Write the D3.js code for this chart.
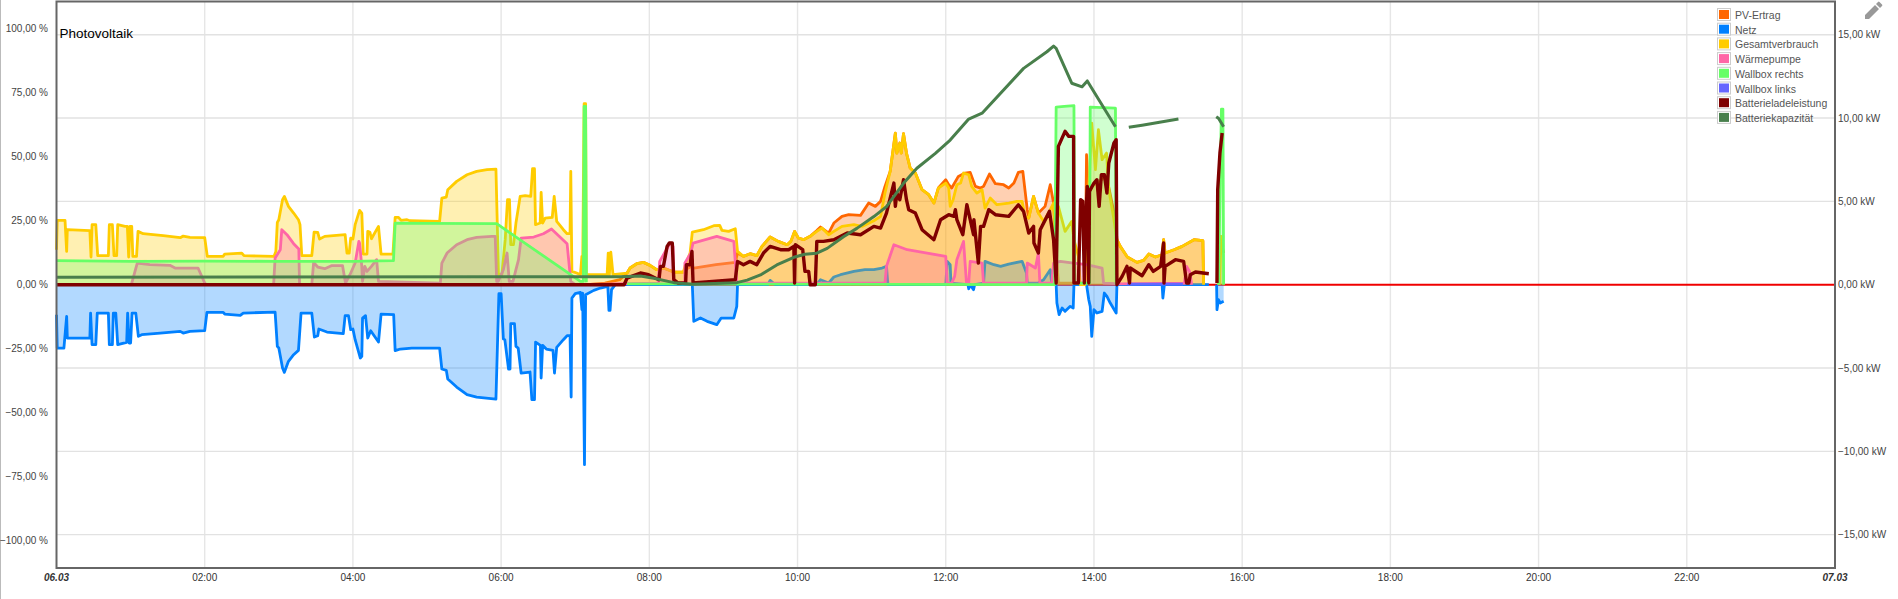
<!DOCTYPE html>
<html><head><meta charset="utf-8">
<script src="https://cdn.jsdelivr.net/npm/d3@7"></script>
<style>html,body{margin:0;padding:0;background:#fff;overflow:hidden}svg{display:block;font-family:"Liberation Sans",Arial,sans-serif}</style>
</head><body><svg id="c" width="1898" height="599"></svg>
<script>
const title="Photovoltaik";
const legendNames=["PV-Ertrag","Netz","Gesamtverbrauch","Wärmepumpe","Wallbox rechts","Wallbox links","Batterieladeleistung","Batteriekapazität"];
const seriesColors=["#ff6600","#0080ff","#ffcc00","#ff66a6","#66ff66","#6666ff","#7f0000","#487f4c"];
const pctTicks=[100,75,50,25,0,-25,-50,-75,-100];
const kwTicks=[15,10,5,0,-5,-10,-15];
const hourTicks=[2,4,6,8,10,12,14,16,18,20,22];

// [hour, kW]
const pv=[[7.16,0],[7.4,.1],[7.6,.3],[7.7,.7],[7.74,1],[7.83,1.26],[7.92,1.34],[8.01,1.16],[8.1,.9],[8.19,1],[8.33,.76],[8.46,.76],[8.48,.9],[8.57,1.1],[8.6,1],[8.9,1.2],[9.16,1.34],[9.19,1.9],[9.27,1.7],[9.36,1.86],[9.45,1.74],[9.52,2.3],[9.63,2.86],[9.74,2.6],[9.86,2.4],[9.91,2.6],[9.96,3.2],[10.01,2.8],[10.08,2.7],[10.17,2.9],[10.26,3.25],[10.31,3.46],[10.42,3.1],[10.49,3.7],[10.6,4.1],[10.69,4.2],[10.85,4.16],[10.96,4.9],[11.05,4.7],[11.12,5],[11.18,5.9],[11.25,6.8],[11.32,9.1],[11.34,7.9],[11.38,8.5],[11.4,7.9],[11.43,9.06],[11.47,7.9],[11.52,7],[11.59,6.7],[11.68,5.7],[11.77,5.4],[11.84,4.9],[11.9,5.8],[12,6.3],[12.04,6],[12.08,5.8],[12.17,6.5],[12.26,6.7],[12.33,6.74],[12.4,5.9],[12.47,5.8],[12.51,5.9],[12.59,6.64],[12.67,6.06],[12.78,6],[12.85,5.8],[12.92,6.1],[12.98,6.74],[13.04,6.8],[13.1,4.5],[13.12,4],[13.185,5.3],[13.25,4.3],[13.34,4.7],[13.41,6],[13.455,4.9],[13.49,1.9],[13.52,.1],[13.88,.1],[13.9,7.8],[13.92,5.5],[13.97,5.9],[14.17,6.5],[14.29,3.9],[14.31,2.7],[14.355,2.3],[14.45,1.66],[14.58,1.34],[14.67,1.46],[14.74,1.84],[14.83,1.66],[14.92,1.8],[14.94,2.7],[14.96,1.9],[15.08,2.1],[15.19,2.3],[15.35,2.7],[15.47,2.64],[15.48,0],[15.49,NaN],[15.68,NaN],[15.69,0],[15.7,2.9],[15.75,1.9]];

const netz=[[0,-1.8],[.01,-3.8],[.1,-3.8],[.137,-1.9],[.146,-3.2],[.45,-3.2],[.46,-1.7],[.48,-3.6],[.53,-3.6],[.55,-1.7],[.7,-1.7],[.713,-3.6],[.754,-3.6],[.767,-1.7],[.8,-1.7],[.826,-3.6],[.947,-3.46],[.96,-1.7],[.98,-3.5],[1,-3.5],[1.02,-1.7],[1.07,-1.7],[1.105,-3.1],[1.15,-3],[1.4,-2.9],[1.67,-2.8],[1.71,-2.9],[1.8,-2.8],[2,-2.76],[2.03,-1.66],[2.25,-1.66],[2.27,-1.76],[2.48,-1.84],[2.52,-1.7],[2.95,-1.64],[2.98,-3.7],[3,-3.8],[3.05,-5],[3.075,-5.26],[3.13,-4.6],[3.2,-4.2],[3.265,-3.94],[3.3,-1.7],[3.445,-1.7],[3.48,-3.14],[3.525,-3.06],[3.54,-2.66],[3.65,-2.84],[3.87,-2.94],[3.895,-1.86],[3.94,-1.86],[3.97,-2.7],[4,-2.66],[4.03,-3.3],[4.1,-4.4],[4.12,-4.3],[4.13,-2],[4.17,-1.86],[4.2,-3.2],[4.24,-2.76],[4.345,-3.44],[4.38,-1.76],[4.55,-1.8],[4.57,-3.96],[4.64,-3.86],[4.795,-3.8],[5.11,-3.8],[5.17,-3.8],[5.2,-5.06],[5.26,-5.14],[5.28,-5.66],[5.4,-6.14],[5.54,-6.6],[5.67,-6.74],[5.93,-6.86],[5.97,-.54],[6,-.54],[6.03,-3.26],[6.05,-3.3],[6.1,-5.06],[6.12,-5.06],[6.13,-2.34],[6.18,-2.34],[6.2,-3.7],[6.23,-3.8],[6.27,-5.3],[6.39,-5.24],[6.415,-6.9],[6.45,-6.9],[6.465,-3.44],[6.53,-3.64],[6.54,-5.6],[6.56,-3.64],[6.61,-3.86],[6.7,-3.94],[6.72,-5.3],[6.75,-3.76],[6.84,-3.3],[6.89,-3.06],[6.93,-3.06],[6.945,-6.74],[6.955,-.8],[7,-.54],[7.07,-.46],[7.09,-1.5],[7.1,-.5],[7.125,-10.8],[7.14,-.6],[7.25,-.34],[7.34,-.2],[7.44,-.1],[7.455,-1.54],[7.47,-1.54],[7.49,-.3],[7.54,0],[8.58,0],[8.6,-2.2],[8.69,-2],[8.78,-2.2],[8.91,-2.4],[8.97,-2],[9.14,-2],[9.18,-1.3],[9.19,0],[9.6,0],[9.63,.26],[9.7,0],[10.26,0],[10.31,.3],[10.42,.1],[10.49,.46],[10.58,.6],[10.76,.8],[10.91,.9],[11.03,.9],[11.14,1],[11.2,1.1],[11.22,0],[12,0],[12.02,1.4],[12.06,1.2],[12.07,.1],[12.3,0],[12.31,-.25],[12.33,0],[12.375,-.3],[12.39,0],[12.51,.1],[12.53,1.4],[12.65,1.2],[12.74,1.1],[12.85,1.24],[13.03,1.4],[13.09,.7],[13.1,.1],[13.25,.1],[13.32,.3],[13.41,.9],[13.43,.1],[13.49,0],[13.5,-1.1],[13.53,-1.8],[13.57,-1.4],[13.61,-1.6],[13.68,-1.3],[13.72,-1.4],[13.73,0],[13.9,0],[13.93,-.9],[13.95,-1.3],[13.97,-3.1],[14,-1.5],[14.04,-1.7],[14.11,-1.6],[14.14,-.5],[14.175,-.7],[14.22,-1.1],[14.3,-1.7],[14.31,0],[14.92,0],[14.93,-.8],[14.95,0],[15.55,0],[15.56,NaN],[15.65,NaN],[15.655,0],[15.66,-1.5],[15.68,-.9],[15.705,-1.1],[15.75,-1]];

const gesamt=[[0,2.1],[.01,3.86],[.115,3.86],[.137,2],[.146,3.3],[.45,3.24],[.466,1.66],[.48,3.6],[.53,3.6],[.556,1.74],[.7,1.74],[.713,3.6],[.754,3.6],[.776,1.74],[.812,1.74],[.826,3.6],[.925,3.5],[.956,3.5],[.974,1.66],[.992,3.5],[1.015,3.5],[1.03,1.7],[1.08,1.7],[1.1,3.2],[1.17,3.06],[1.44,2.94],[1.67,2.82],[1.71,2.92],[1.8,2.84],[2,2.82],[2.035,1.7],[2.25,1.7],[2.27,1.84],[2.5,1.9],[2.53,1.74],[2.935,1.7],[2.96,2],[2.98,3.74],[3,3.9],[3.05,5.1],[3.075,5.3],[3.13,4.7],[3.2,4.3],[3.265,3.9],[3.286,3.6],[3.31,1.74],[3.445,1.74],[3.476,3.16],[3.525,3.14],[3.55,2.74],[3.62,2.9],[3.895,3],[3.92,1.9],[3.95,1.9],[3.97,2.8],[4,2.74],[4.03,3.6],[4.09,4.46],[4.12,4.3],[4.14,1.84],[4.19,1.84],[4.2,3.2],[4.23,3.14],[4.25,2.76],[4.345,3.5],[4.38,1.84],[4.54,1.84],[4.57,4.04],[4.615,4.04],[4.65,3.86],[4.73,3.9],[4.77,3.84],[5.17,3.8],[5.2,5.2],[5.26,5.26],[5.28,5.7],[5.4,6.2],[5.54,6.6],[5.67,6.8],[5.81,6.9],[5.93,6.94],[5.965,.6],[6.01,.6],[6.055,2.7],[6.086,5.1],[6.113,5.1],[6.13,2.4],[6.167,2.4],[6.2,3.7],[6.257,5.3],[6.325,5.34],[6.4,5.3],[6.424,6.96],[6.45,6.96],[6.464,3.6],[6.527,3.7],[6.54,5.54],[6.56,3.7],[6.595,4],[6.69,4.04],[6.716,5.3],[6.75,3.8],[6.84,3.3],[6.89,3.06],[6.93,3.06],[6.94,6.8],[6.955,.8],[7.02,.7],[7.07,.6],[7.09,1.7],[7.1,.7],[7.12,10.86],[7.14,10.86],[7.15,.6],[7.43,.6],[7.445,1.9],[7.46,.6],[7.48,1.96],[7.51,.6],[7.7,.7],[7.74,1],[7.83,1.26],[7.92,1.34],[8.01,1.16],[8.1,.9],[8.19,1],[8.33,.76],[8.46,.76],[8.48,1.1],[8.55,1.9],[8.58,3.16],[8.73,3.3],[8.87,3.54],[8.95,3.56],[8.98,3.26],[9.07,3.2],[9.16,3.36],[9.19,2],[9.27,1.7],[9.36,1.86],[9.45,1.74],[9.52,2.3],[9.63,2.86],[9.74,2.6],[9.86,2.4],[9.91,2.6],[9.96,3.2],[10.01,2.8],[10.08,2.7],[10.17,2.9],[10.26,3.2],[10.33,3.4],[10.42,3],[10.49,3.2],[10.6,3.5],[10.76,3.6],[10.87,3.5],[11.03,3.84],[11.12,4.1],[11.18,5.5],[11.25,6.8],[11.32,9.1],[11.34,7.9],[11.38,8.5],[11.4,7.9],[11.43,9.06],[11.47,7.9],[11.52,7],[11.59,6.7],[11.68,5.7],[11.77,5.4],[11.84,4.9],[11.9,5.8],[12,6.1],[12.04,5.8],[12.06,4.7],[12.1,5.1],[12.15,6],[12.2,6.1],[12.24,6.7],[12.31,6.6],[12.35,5.9],[12.42,5.5],[12.49,5.7],[12.53,4.6],[12.6,5.2],[12.69,4.8],[12.85,4.9],[12.96,5],[13.03,5],[13.07,4.1],[13.12,4],[13.185,5.3],[13.25,4.3],[13.32,3.8],[13.41,4.5],[13.455,4.9],[13.49,2.3],[13.52,4.7],[13.61,3.2],[13.7,3.8],[13.73,2.7],[13.79,1.7],[13.815,0],[13.88,0],[13.93,5.7],[13.97,9.7],[14.02,6.9],[14.06,9.3],[14.11,7.5],[14.17,7.9],[14.2,5.7],[14.27,3.9],[14.31,2.7],[14.355,2.3],[14.45,1.66],[14.58,1.34],[14.67,1.46],[14.74,1.84],[14.83,1.66],[14.92,1.8],[14.94,2.7],[14.96,1.9],[15.08,2.1],[15.19,2.3],[15.35,2.7],[15.47,2.64],[15.48,0],[15.49,NaN],[15.68,NaN],[15.69,0],[15.72,2.9],[15.75,2.8]];

const waerme=[[0,0],[1.01,0],[1.09,1.3],[1.26,1.2],[1.53,1.16],[1.6,1],[1.91,1],[2,.1],[2.02,0],[2.93,0],[2.95,1.6],[3.02,2.1],[3.04,3.3],[3.11,3],[3.2,2.46],[3.27,2.14],[3.28,0],[3.445,0],[3.47,1.34],[3.525,1.06],[3.62,.96],[3.71,1.14],[3.86,1.14],[3.9,.1],[3.96,.6],[4.03,1.3],[4.08,2.6],[4.09,2.5],[4.12,1.1],[4.13,.2],[4.16,1.1],[4.19,.8],[4.25,1.1],[4.32,1.5],[4.345,.2],[5.18,.1],[5.2,1.3],[5.27,1.9],[5.4,2.4],[5.54,2.7],[5.67,2.84],[5.875,2.9],[5.92,2.9],[5.94,.2],[5.96,.2],[6.03,.9],[6.08,1.9],[6.11,.2],[6.16,.2],[6.2,.9],[6.235,1.5],[6.27,2.8],[6.44,2.86],[6.57,3.06],[6.68,3.34],[6.89,2.46],[6.94,.2],[7,0],[8.12,.1],[8.14,1.4],[8.28,2.5],[8.32,2.3],[8.33,.1],[8.48,.1],[8.48,1.3],[8.56,1.9],[8.59,2.5],[8.91,2.9],[9.14,2.6],[9.18,.1],[11.18,.1],[11.2,1.1],[11.3,2.4],[11.48,2.1],[12,1.7],[12.02,.1],[12.08,.1],[12.12,.5],[12.15,1.5],[12.24,2.6],[12.28,.1],[12.31,.1],[12.33,1.4],[12.49,1.3],[12.51,.1],[13.09,.1],[13.1,1.3],[13.21,1],[13.25,1.9],[13.27,.1],[13.43,.1],[13.455,1.3],[13.545,1.4],[13.725,1.3],[13.9,1.2],[14.11,1],[14.13,.1],[14.35,.05],[15.22,.1],[15.25,1.1],[15.29,.8],[15.32,0]];

const wallboxRechts=[[0,1.44],[1,1.4],[2,1.42],[3,1.4],[4,1.4],[4.547,1.44],[4.57,3.7],[5,3.68],[5.94,3.66],[7.07,.2],[7.11,.2],[7.12,10.7],[7.14,10.7],[7.15,.15],[7.16,NaN],[7.69,NaN],[7.7,.05],[13.47,0],[13.49,10.66],[13.6,10.7],[13.73,10.74],[13.74,.1],[13.94,.1],[13.95,10.66],[14.29,10.6],[14.3,0],[14.31,NaN],[15.67,NaN],[15.68,0],[15.72,10.54],[15.74,10.54],[15.75,0]];

const wallboxLinks=[[14.45,.03],[15.2,.03]];

const batterie=[[0,0],[7.66,0],[7.7,.4],[7.76,.5],[7.88,.7],[7.99,.6],[8.08,.4],[8.13,.3],[8.15,1.1],[8.19,1.1],[8.24,2.3],[8.27,2.5],[8.31,2.5],[8.33,.3],[8.39,.1],[8.49,.1],[8.5,1.2],[8.55,1.2],[8.575,2],[8.59,.1],[9.16,.3],[9.19,1.4],[9.27,1.2],[9.36,1.4],[9.45,1.2],[9.54,1.9],[9.63,2.3],[9.77,2.1],[9.88,2.1],[9.95,2.3],[9.96,.1],[9.97,2.4],[10.07,2.1],[10.1,.8],[10.15,.8],[10.17,0],[10.24,0],[10.26,2.6],[10.35,2.6],[10.49,2.7],[10.67,3.1],[10.85,3],[11.03,3.5],[11.12,3.4],[11.2,4.3],[11.3,6.1],[11.32,4.7],[11.34,5.5],[11.38,5.1],[11.43,6.3],[11.47,5.1],[11.5,4.5],[11.59,4.3],[11.68,3.3],[11.84,2.7],[11.93,3.9],[12.04,4.2],[12.11,4.1],[12.13,4.5],[12.15,3.9],[12.23,3],[12.285,4.8],[12.33,3.9],[12.375,3],[12.38,3.9],[12.44,1.3],[12.47,3.5],[12.51,3.5],[12.58,4.5],[12.67,4.2],[12.85,4.1],[12.98,4.8],[13.05,4.4],[13.12,3.1],[13.185,3.5],[13.19,2.5],[13.25,1.9],[13.275,3.3],[13.4,4.4],[13.455,2.7],[13.49,.1],[13.52,8.3],[13.61,9.2],[13.66,8.9],[13.725,8.9],[13.73,.1],[13.79,.1],[13.82,5.1],[13.85,5],[13.87,.1],[13.88,3.1],[13.91,5.9],[13.93,.1],[13.94,5.6],[14,6.1],[14.04,6.3],[14.07,4.7],[14.1,6.6],[14.14,6.6],[14.175,5.5],[14.2,7.3],[14.27,8.5],[14.3,8.7],[14.31,0],[14.38,.5],[14.445,1.1],[14.48,.1],[14.49,1],[14.65,.54],[14.74,1.2],[14.8,.8],[14.9,1.1],[14.94,2.5],[14.945,.1],[14.96,1.1],[15.1,1.5],[15.21,1.4],[15.25,.1],[15.28,.1],[15.3,.6],[15.37,.76],[15.55,.66],[15.56,NaN],[15.65,NaN],[15.66,.1],[15.67,5.7],[15.7,7.9],[15.73,9.1]];

// [hour, %] on the left axis
const kapazitaet=[[0,2.9],[7.607,3.1],[7.88,3.4],[8.06,2.5],[8.33,.8],[8.575,.2],[9.18,.8],[9.32,1.8],[9.5,3.8],[9.72,7.7],[9.95,10.7],[10.1,11.9],[10.26,12.3],[10.4,14.2],[10.62,18.75],[10.8,22],[11.03,26.6],[11.2,30.5],[11.43,39.6],[11.61,45.5],[11.86,51.3],[12.06,56.5],[12.31,64.7],[12.49,67],[13.05,84.5],[13.365,91],[13.455,93.2],[13.49,92.3],[13.7,78.7],[13.84,77.3],[13.91,79.6],[14.29,61.7],[14.3,NaN],[14.46,NaN],[14.47,61.5],[14.65,62.3],[15.14,64.7],[15.15,NaN],[15.64,NaN],[15.65,65.6],[15.68,65],[15.75,61.7]];

const W=1898,H=599,L=56.5,R=1835,T=1.5,B=568;
const svg=d3.select("#c");
const defs=svg.append("defs");
defs.append("filter").attr("id","soft").attr("x","-2%").attr("y","-2%").attr("width","104%").attr("height","104%")
  .append("feGaussianBlur").attr("stdDeviation",.4);
const xH=d3.scaleLinear().domain([0,24]).range([L,R]);
const yK=d3.scaleLinear().domain([-17,17]).range([568,1.4]);
const yP=d3.scaleLinear().domain([-100,100]).range([284.7+256,284.7-256]);

// outer page edge
svg.append("line").attr("x1",.5).attr("x2",.5).attr("y1",0).attr("y2",H).attr("stroke","#bbb").attr("stroke-width",1);

// grid
const grid=svg.append("g");
grid.selectAll(".v").data(hourTicks).join("line").attr("x1",d=>xH(d)).attr("x2",d=>xH(d)).attr("y1",T).attr("y2",B).attr("stroke","#e6e6e6").attr("stroke-width",1.4);
grid.selectAll(".h").data(kwTicks.filter(d=>d!==0)).join("line").attr("x1",L).attr("x2",R).attr("y1",d=>yK(d)).attr("y2",d=>yK(d)).attr("stroke","#e2e2e2").attr("stroke-width",1.4);

const ok=d=>!isNaN(d[1]);
const lineK=d3.line().defined(ok).x(d=>xH(d[0])).y(d=>yK(d[1]));
const lineP=d3.line().defined(ok).x(d=>xH(d[0])).y(d=>yP(d[1]));
const areaK=d3.area().defined(ok).x(d=>xH(d[0])).y0(yK(0)).y1(d=>yK(d[1]));

const plot=svg.append("g").attr("filter","url(#soft)");

// zero line
plot.append("line").attr("x1",L).attr("x2",R).attr("y1",yK(0)).attr("y2",yK(0)).attr("stroke","#f00000").attr("stroke-width",2);

[pv,netz,gesamt,waerme,wallboxRechts,wallboxLinks].forEach((s,i)=>{
  plot.append("path").attr("d",areaK(s)).attr("fill",seriesColors[i]).attr("fill-opacity",.3);
  plot.append("path").attr("d",lineK(s)).attr("fill","none").attr("stroke",seriesColors[i]).attr("stroke-width",2.8).attr("stroke-linejoin","round");
});
plot.append("path").attr("d",lineK(batterie)).attr("fill","none").attr("stroke",seriesColors[6]).attr("stroke-width",3.4).attr("stroke-linejoin","round");
plot.append("path").attr("d",lineP(kapazitaet)).attr("fill","none").attr("stroke",seriesColors[7]).attr("stroke-width",3).attr("stroke-linejoin","round");

// frame
svg.append("path").attr("d",`M${L},${T}V${B}H${R}V${T}Z`).attr("fill","none").attr("stroke","#666").attr("stroke-width",2);

// tick labels
const fmt=d=>d3.format(".2f")(d).replace(".",",");
svg.append("g").selectAll("text").data(pctTicks).join("text").attr("x",48).attr("y",d=>yP(d)+3.5).attr("text-anchor","end").attr("font-size",10).attr("fill","#444").text(d=>fmt(d)+" %");
svg.append("g").selectAll("text").data(kwTicks).join("text").attr("x",1838).attr("y",d=>yK(d)+3.5).attr("font-size",10).attr("fill","#444").text(d=>fmt(d)+" kW");
svg.append("g").selectAll("text").data(hourTicks).join("text").attr("x",d=>xH(d)).attr("y",581).attr("text-anchor","middle").attr("font-size",10).attr("fill","#333").text(d=>String(d).padStart(2,"0")+":00");
svg.append("text").attr("x",L).attr("y",581).attr("text-anchor","middle").attr("font-size",10).attr("font-weight","bold").attr("font-style","italic").attr("fill","#333").text("06.03");
svg.append("text").attr("x",R).attr("y",581).attr("text-anchor","middle").attr("font-size",10).attr("font-weight","bold").attr("font-style","italic").attr("fill","#333").text("07.03");

svg.append("text").attr("x",59.5).attr("y",38).attr("font-size",13.5).attr("fill","#000").text(title);

// legend
const lg=svg.append("g").selectAll("g").data(legendNames).join("g").attr("transform",(d,i)=>`translate(0,${15+i*14.7})`);
lg.append("rect").attr("x",1717.5).attr("y",-6.5).attr("width",13).attr("height",12).attr("fill","#fff").attr("stroke","#ccc").attr("stroke-width",1);
lg.append("rect").attr("x",1719).attr("y",-5).attr("width",10).attr("height",9).attr("fill",(d,i)=>seriesColors[i]);
lg.append("text").attr("x",1735).attr("y",4).attr("font-size",10.5).attr("fill","#555").text(d=>d);

// edit pencil
svg.append("path").attr("d","M1865,19l0,-4l10,-10l4,4l-10,10Z M1876,4l2,-2a1,1 0 0 1 1.5,0l2.5,2.5a1,1 0 0 1 0,1.5l-2,2Z").attr("fill","#999");
</script></body></html>
